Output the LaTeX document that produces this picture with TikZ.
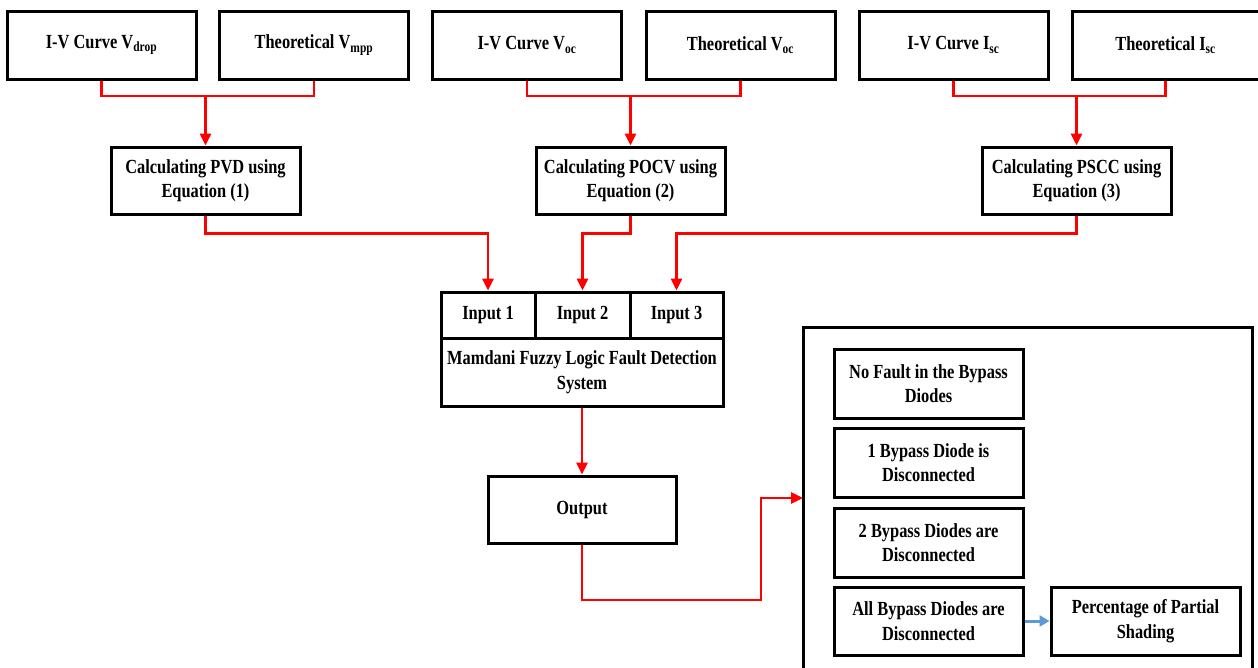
\documentclass[tikz,border=0pt]{standalone}
\usepackage{fontspec}
\setmainfont{Liberation Serif}[FakeStretch=0.82]
\usetikzlibrary{arrows.meta}
\definecolor{conred}{RGB}{255,0,0}
\definecolor{conblue}{RGB}{91,155,213}
\begin{document}
\begin{tikzpicture}[x=1pt,y=-1pt,
  box/.style={draw=black,line width=3pt,fill=white,align=center,inner sep=0pt,
    minimum width=189pt,minimum height=68pt,font=\fontsize{20}{24.5}\selectfont\bfseries},
  inbox/.style={box,minimum width=94pt,minimum height=46pt},
  redcon/.style={draw=conred,line width=2.8pt},
  redarrow/.style={redcon,-{Triangle[length=12pt,width=11pt]}},
  bluearrow/.style={draw=conblue,line width=3pt,-{Triangle[length=10pt,width=11pt]}}]
\useasboundingbox (0,0) rectangle (1258,667);
% top row
\node[box] (B1) at (101.5,45) {I-V Curve V\textsubscript{drop}};
\node[box] (B2) at (314,45) {Theoretical V\textsubscript{mpp}};
\node[box] (B3) at (527,45) {I-V Curve V\textsubscript{oc}};
\node[box] (B4) at (740.5,45) {Theoretical V\textsubscript{oc}};
\node[box] (B5) at (953.5,45) {I-V Curve I\textsubscript{sc}};
\node[box,minimum width=187pt] (B6) at (1165.5,45) {Theoretical I\textsubscript{sc}};
% calculation boxes
\node[box,minimum height=67pt] (C1) at (205.5,180.5) {Calculating PVD using\\Equation (1)};
\node[box,minimum height=67pt] (C2) at (630.5,180.5) {Calculating POCV using\\Equation (2)};
\node[box,minimum height=67pt] (C3) at (1076.5,180.5) {Calculating PSCC using\\Equation (3)};
% fuzzy system
\node[inbox,minimum width=94pt] (I1) at (488,315) {Input 1};
\node[inbox,minimum width=95pt] (I2) at (582.5,315) {Input 2};
\node[inbox,minimum width=93pt] (I3) at (676.5,315) {Input 3};
\node[box,minimum width=282pt] (M) at (582,372) {Mamdani Fuzzy Logic Fault Detection\\System};
\node[box,minimum width=188pt,minimum height=67pt] (O) at (582,509.5) {Output};
% panel
\coordinate (PB1) at (803,672);
\coordinate (PT1) at (803,327);
\coordinate (PT2) at (1252,327);
\coordinate (PB2) at (1252,672);
\draw[line width=3pt] (PB1) -- (PT1) -- (PT2) -- (PB2);
\node[box,minimum height=69pt] (D1) at (928.5,383.5) {No Fault in the Bypass\\Diodes};
\node[box,minimum height=69pt] (D2) at (928.5,462.5) {1 Bypass Diode is\\Disconnected};
\node[box,minimum height=69pt] (D3) at (928.5,542.5) {2 Bypass Diodes are\\Disconnected};
\node[box,minimum height=68pt] (D4) at (928.5,621) {All Bypass Diodes are\\Disconnected};
\node[box,minimum height=68pt] (P) at (1145.5,621) {Percentage of Partial\\Shading};
% connectors top
\coordinate (J1) at (C1.north |- 0,96);
\coordinate (J2) at (C2.north |- 0,96);
\coordinate (J3) at (C3.north |- 0,96);
\draw[redcon] (B1.south) |- (J1) -| (B2.south);
\draw[redarrow] (J1) -- (C1.north);
\draw[redcon] (B3.south) |- (J2) -| (B4.south);
\draw[redarrow] (J2) -- (C2.north);
\draw[redcon] (B5.south) |- (J3) -| (B6.south);
\draw[redarrow] (J3) -- (C3.north);
% connectors to inputs
\draw[redarrow] (C1.south) -- ++(0,18) -| (I1.north);
\draw[redarrow] (C2.south) -- ++(0,18) -| (I2.north);
\draw[redarrow] (C3.south) -- ++(0,18) -| (I3.north);
% to output
\draw[redarrow] (M.south) -- (O.north);
\coordinate (T1) at (761,600);
\coordinate (PIN) at (803,498);
\draw[redarrow] (O.south) |- (T1) |- (PIN);
% blue
\draw[bluearrow] (D4.east) -- (P.west);
\end{tikzpicture}
\end{document}
